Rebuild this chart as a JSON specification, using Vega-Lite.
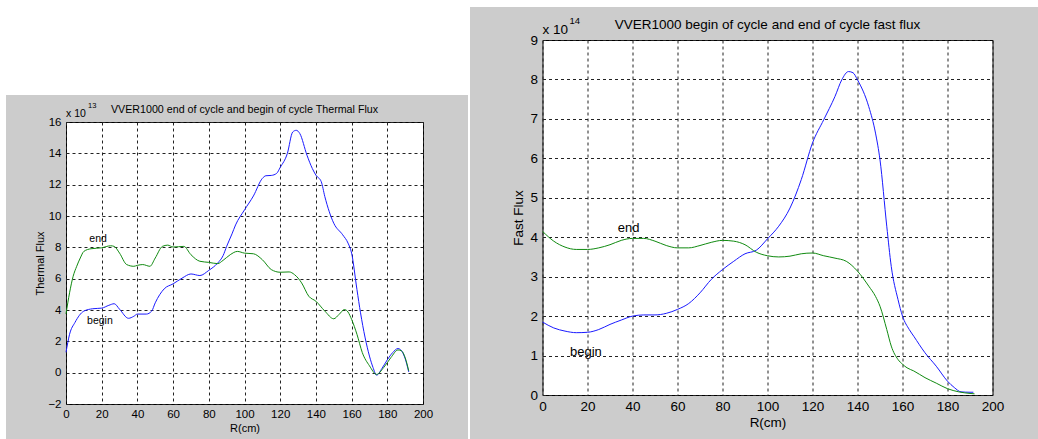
{
  "$schema": "https://vega.github.io/schema/vega-lite/v6.json",
  "background": "#cccccc",
  "padding": 0,
  "bounds": "full",
  "align": "none",
  "spacing": 0,
  "config": {
    "font": "Liberation Sans",
    "view": {"stroke": null},
    "axis": {
      "domain": false,
      "ticks": false,
      "grid": true,
      "gridColor": "#222222",
      "gridDash": [3, 3],
      "gridWidth": 1,
      "labelColor": "#000000",
      "titleColor": "#000000",
      "labelFont": "Liberation Sans",
      "titleFont": "Liberation Sans",
      "titleFontWeight": "normal",
      "labelFlush": false,
      "labelOverlap": false,
      "format": "d"
    },
    "title": {"fontWeight": "normal", "color": "#000000", "font": "Liberation Sans"}
  },
  "datasets": {
    "thermal": [
      {"r": 0, "flux": 1.3, "series": "begin"},
      {"r": 2, "flux": 2.45, "series": "begin"},
      {"r": 5, "flux": 3.2, "series": "begin"},
      {"r": 10, "flux": 3.93, "series": "begin"},
      {"r": 15, "flux": 4.08, "series": "begin"},
      {"r": 20, "flux": 4.12, "series": "begin"},
      {"r": 24, "flux": 4.3, "series": "begin"},
      {"r": 27, "flux": 4.4, "series": "begin"},
      {"r": 30, "flux": 4.05, "series": "begin"},
      {"r": 35, "flux": 3.47, "series": "begin"},
      {"r": 38, "flux": 3.6, "series": "begin"},
      {"r": 40, "flux": 3.74, "series": "begin"},
      {"r": 45, "flux": 3.74, "series": "begin"},
      {"r": 48, "flux": 3.93, "series": "begin"},
      {"r": 50, "flux": 4.46, "series": "begin"},
      {"r": 55, "flux": 5.35, "series": "begin"},
      {"r": 60, "flux": 5.67, "series": "begin"},
      {"r": 65, "flux": 6.03, "series": "begin"},
      {"r": 70, "flux": 6.3, "series": "begin"},
      {"r": 75, "flux": 6.2, "series": "begin"},
      {"r": 80, "flux": 6.53, "series": "begin"},
      {"r": 85, "flux": 7.0, "series": "begin"},
      {"r": 88, "flux": 7.47, "series": "begin"},
      {"r": 90, "flux": 8.06, "series": "begin"},
      {"r": 93, "flux": 8.86, "series": "begin"},
      {"r": 95, "flux": 9.43, "series": "begin"},
      {"r": 100, "flux": 10.39, "series": "begin"},
      {"r": 105, "flux": 11.28, "series": "begin"},
      {"r": 110, "flux": 12.4, "series": "begin"},
      {"r": 112, "flux": 12.57, "series": "begin"},
      {"r": 115, "flux": 12.59, "series": "begin"},
      {"r": 118, "flux": 12.72, "series": "begin"},
      {"r": 120, "flux": 13.1, "series": "begin"},
      {"r": 124, "flux": 13.99, "series": "begin"},
      {"r": 127, "flux": 15.36, "series": "begin"},
      {"r": 129, "flux": 15.47, "series": "begin"},
      {"r": 131, "flux": 15.26, "series": "begin"},
      {"r": 135, "flux": 13.88, "series": "begin"},
      {"r": 138, "flux": 13.03, "series": "begin"},
      {"r": 140, "flux": 12.61, "series": "begin"},
      {"r": 143, "flux": 12.19, "series": "begin"},
      {"r": 145, "flux": 11.24, "series": "begin"},
      {"r": 150, "flux": 9.54, "series": "begin"},
      {"r": 155, "flux": 8.8, "series": "begin"},
      {"r": 158, "flux": 8.27, "series": "begin"},
      {"r": 160, "flux": 7.63, "series": "begin"},
      {"r": 163, "flux": 5.3, "series": "begin"},
      {"r": 165, "flux": 3.82, "series": "begin"},
      {"r": 170, "flux": 1.06, "series": "begin"},
      {"r": 172, "flux": 0.33, "series": "begin"},
      {"r": 174, "flux": -0.16, "series": "begin"},
      {"r": 177, "flux": 0.27, "series": "begin"},
      {"r": 180, "flux": 0.82, "series": "begin"},
      {"r": 183, "flux": 1.28, "series": "begin"},
      {"r": 186, "flux": 1.54, "series": "begin"},
      {"r": 188, "flux": 1.39, "series": "begin"},
      {"r": 190, "flux": 0.9, "series": "begin"},
      {"r": 192, "flux": 0.05, "series": "begin"},
      {"r": 0, "flux": 3.75, "series": "end"},
      {"r": 2, "flux": 5.1, "series": "end"},
      {"r": 4, "flux": 6.15, "series": "end"},
      {"r": 6, "flux": 6.79, "series": "end"},
      {"r": 8, "flux": 7.32, "series": "end"},
      {"r": 10, "flux": 7.74, "series": "end"},
      {"r": 14, "flux": 7.91, "series": "end"},
      {"r": 20, "flux": 7.97, "series": "end"},
      {"r": 25, "flux": 8.1, "series": "end"},
      {"r": 27, "flux": 8.06, "series": "end"},
      {"r": 30, "flux": 7.63, "series": "end"},
      {"r": 34, "flux": 6.9, "series": "end"},
      {"r": 38, "flux": 6.79, "series": "end"},
      {"r": 40, "flux": 6.85, "series": "end"},
      {"r": 43, "flux": 6.9, "series": "end"},
      {"r": 47, "flux": 6.79, "series": "end"},
      {"r": 50, "flux": 7.32, "series": "end"},
      {"r": 54, "flux": 8.06, "series": "end"},
      {"r": 57, "flux": 8.14, "series": "end"},
      {"r": 60, "flux": 8.02, "series": "end"},
      {"r": 66, "flux": 8.06, "series": "end"},
      {"r": 70, "flux": 7.53, "series": "end"},
      {"r": 75, "flux": 7.11, "series": "end"},
      {"r": 80, "flux": 7.04, "series": "end"},
      {"r": 85, "flux": 6.96, "series": "end"},
      {"r": 88, "flux": 7.17, "series": "end"},
      {"r": 92, "flux": 7.53, "series": "end"},
      {"r": 96, "flux": 7.74, "series": "end"},
      {"r": 100, "flux": 7.63, "series": "end"},
      {"r": 105, "flux": 7.59, "series": "end"},
      {"r": 110, "flux": 7.21, "series": "end"},
      {"r": 115, "flux": 6.58, "series": "end"},
      {"r": 120, "flux": 6.41, "series": "end"},
      {"r": 125, "flux": 6.43, "series": "end"},
      {"r": 128, "flux": 6.26, "series": "end"},
      {"r": 132, "flux": 5.73, "series": "end"},
      {"r": 136, "flux": 4.88, "series": "end"},
      {"r": 140, "flux": 4.56, "series": "end"},
      {"r": 145, "flux": 3.93, "series": "end"},
      {"r": 150, "flux": 3.44, "series": "end"},
      {"r": 153, "flux": 3.72, "series": "end"},
      {"r": 156, "flux": 4.03, "series": "end"},
      {"r": 158, "flux": 3.87, "series": "end"},
      {"r": 160, "flux": 3.4, "series": "end"},
      {"r": 163, "flux": 2.45, "series": "end"},
      {"r": 166, "flux": 1.28, "series": "end"},
      {"r": 170, "flux": 0.44, "series": "end"},
      {"r": 174, "flux": -0.11, "series": "end"},
      {"r": 178, "flux": 0.33, "series": "end"},
      {"r": 182, "flux": 0.96, "series": "end"},
      {"r": 186, "flux": 1.45, "series": "end"},
      {"r": 188, "flux": 1.39, "series": "end"},
      {"r": 190, "flux": 0.96, "series": "end"},
      {"r": 192, "flux": 0.12, "series": "end"}
    ],
    "fast": [
      {"r": 0, "flux": 1.85, "series": "begin"},
      {"r": 5, "flux": 1.7, "series": "begin"},
      {"r": 10, "flux": 1.62, "series": "begin"},
      {"r": 15, "flux": 1.58, "series": "begin"},
      {"r": 20, "flux": 1.59, "series": "begin"},
      {"r": 25, "flux": 1.66, "series": "begin"},
      {"r": 30, "flux": 1.79, "series": "begin"},
      {"r": 35, "flux": 1.9, "series": "begin"},
      {"r": 40, "flux": 2.0, "series": "begin"},
      {"r": 45, "flux": 2.03, "series": "begin"},
      {"r": 50, "flux": 2.03, "series": "begin"},
      {"r": 55, "flux": 2.07, "series": "begin"},
      {"r": 60, "flux": 2.17, "series": "begin"},
      {"r": 65, "flux": 2.32, "series": "begin"},
      {"r": 70, "flux": 2.59, "series": "begin"},
      {"r": 75, "flux": 2.93, "series": "begin"},
      {"r": 80, "flux": 3.18, "series": "begin"},
      {"r": 85, "flux": 3.39, "series": "begin"},
      {"r": 90, "flux": 3.58, "series": "begin"},
      {"r": 95, "flux": 3.67, "series": "begin"},
      {"r": 100, "flux": 3.96, "series": "begin"},
      {"r": 105, "flux": 4.28, "series": "begin"},
      {"r": 110, "flux": 4.74, "series": "begin"},
      {"r": 115, "flux": 5.46, "series": "begin"},
      {"r": 120, "flux": 6.39, "series": "begin"},
      {"r": 125, "flux": 6.98, "series": "begin"},
      {"r": 130, "flux": 7.57, "series": "begin"},
      {"r": 133, "flux": 7.99, "series": "begin"},
      {"r": 136, "flux": 8.2, "series": "begin"},
      {"r": 138, "flux": 8.17, "series": "begin"},
      {"r": 140, "flux": 7.99, "series": "begin"},
      {"r": 145, "flux": 7.31, "series": "begin"},
      {"r": 148, "flux": 6.64, "series": "begin"},
      {"r": 150, "flux": 5.96, "series": "begin"},
      {"r": 153, "flux": 4.28, "series": "begin"},
      {"r": 155, "flux": 3.26, "series": "begin"},
      {"r": 158, "flux": 2.42, "series": "begin"},
      {"r": 160, "flux": 2.0, "series": "begin"},
      {"r": 163, "flux": 1.66, "series": "begin"},
      {"r": 165, "flux": 1.49, "series": "begin"},
      {"r": 170, "flux": 1.07, "series": "begin"},
      {"r": 175, "flux": 0.73, "series": "begin"},
      {"r": 180, "flux": 0.35, "series": "begin"},
      {"r": 183, "flux": 0.19, "series": "begin"},
      {"r": 186, "flux": 0.08, "series": "begin"},
      {"r": 190, "flux": 0.07, "series": "begin"},
      {"r": 191.5, "flux": 0.07, "series": "begin"},
      {"r": 0, "flux": 4.15, "series": "end"},
      {"r": 5, "flux": 3.9, "series": "end"},
      {"r": 10, "flux": 3.75, "series": "end"},
      {"r": 15, "flux": 3.69, "series": "end"},
      {"r": 20, "flux": 3.69, "series": "end"},
      {"r": 25, "flux": 3.73, "series": "end"},
      {"r": 30, "flux": 3.81, "series": "end"},
      {"r": 35, "flux": 3.92, "series": "end"},
      {"r": 40, "flux": 3.97, "series": "end"},
      {"r": 45, "flux": 3.97, "series": "end"},
      {"r": 50, "flux": 3.9, "series": "end"},
      {"r": 55, "flux": 3.79, "series": "end"},
      {"r": 60, "flux": 3.73, "series": "end"},
      {"r": 65, "flux": 3.73, "series": "end"},
      {"r": 70, "flux": 3.79, "series": "end"},
      {"r": 75, "flux": 3.87, "series": "end"},
      {"r": 80, "flux": 3.92, "series": "end"},
      {"r": 85, "flux": 3.9, "series": "end"},
      {"r": 90, "flux": 3.81, "series": "end"},
      {"r": 95, "flux": 3.62, "series": "end"},
      {"r": 100, "flux": 3.53, "series": "end"},
      {"r": 105, "flux": 3.5, "series": "end"},
      {"r": 110, "flux": 3.52, "series": "end"},
      {"r": 115, "flux": 3.58, "series": "end"},
      {"r": 120, "flux": 3.6, "series": "end"},
      {"r": 125, "flux": 3.53, "series": "end"},
      {"r": 130, "flux": 3.47, "series": "end"},
      {"r": 135, "flux": 3.39, "series": "end"},
      {"r": 140, "flux": 3.14, "series": "end"},
      {"r": 145, "flux": 2.76, "series": "end"},
      {"r": 148, "flux": 2.5, "series": "end"},
      {"r": 150, "flux": 2.25, "series": "end"},
      {"r": 153, "flux": 1.66, "series": "end"},
      {"r": 155, "flux": 1.24, "series": "end"},
      {"r": 158, "flux": 0.9, "series": "end"},
      {"r": 160, "flux": 0.78, "series": "end"},
      {"r": 162, "flux": 0.69, "series": "end"},
      {"r": 165, "flux": 0.61, "series": "end"},
      {"r": 170, "flux": 0.44, "series": "end"},
      {"r": 175, "flux": 0.3, "series": "end"},
      {"r": 180, "flux": 0.16, "series": "end"},
      {"r": 185, "flux": 0.08, "series": "end"},
      {"r": 190, "flux": 0.04, "series": "end"},
      {"r": 192, "flux": 0.03, "series": "end"}
    ],
    "thermal_labels": [
      {"r": 18, "flux": 8.53, "label": "end"},
      {"r": 19, "flux": 3.32, "label": "begin"}
    ],
    "fast_labels": [
      {"r": 38.3, "flux": 4.24, "label": "end"},
      {"r": 19.3, "flux": 1.09, "label": "begin"}
    ],
    "thermal_exp": [{"base": "x 10", "exp": "13"}],
    "fast_exp": [{"base": "x 10", "exp": "14"}]
  },
  "hconcat": [
    {
      "width": 6, "height": 439,
      "data": {"values": []},
      "view": {"fill": "#ffffff", "stroke": null},
      "mark": {"type": "point", "opacity": 0}
    },
    {
      "bounds": "full",
      "align": "none",
      "spacing": 6,
      "vconcat": [
        {
          "width": 462, "height": 95,
          "data": {"values": []},
          "view": {"fill": "#ffffff", "stroke": null},
          "mark": {"type": "point", "opacity": 0}
        },
        {
          "bounds": "full",
          "align": "none",
          "spacing": 27,
          "hconcat": [
            {
              "width": 1, "height": 1,
              "data": {"values": []},
              "view": {"fill": null, "stroke": null},
              "mark": {"type": "point", "opacity": 0}
            },
            {
              "width": 357, "height": 282,
              "view": {"fill": "#ffffff", "stroke": "#000000", "strokeWidth": 1},
              "title": {"text": "VVER1000 end of cycle and begin of cycle Thermal Flux", "fontSize": 10.7, "offset": -14, "anchor": "middle"},
              "layer": [
                {
                  "data": {"name": "thermal"},
                  "mark": {"type": "line", "interpolate": "monotone", "strokeWidth": 1},
                  "encoding": {
                    "x": {"field": "r", "type": "quantitative", "scale": {"domain": [0, 200], "nice": false, "zero": false},
                      "axis": {"title": "R(cm)", "values": [0, 20, 40, 60, 80, 100, 120, 140, 160, 180, 200], "tickCount": 30, "format": "d", "labelFontSize": 11.5, "titleFontSize": 11, "labelPadding": 4, "titlePadding": 3}},
                    "y": {"field": "flux", "type": "quantitative", "scale": {"domain": [-2, 16], "nice": false, "zero": false},
                      "axis": {"title": "Thermal Flux", "values": [-2, 0, 2, 4, 6, 8, 10, 12, 14, 16], "tickCount": 30, "format": "d", "labelFontSize": 11.5, "titleFontSize": 11, "labelPadding": 5, "titlePadding": 2}},
                    "color": {"field": "series", "type": "nominal", "scale": {"domain": ["begin", "end"], "range": ["#1a1aff", "#108a10"]}, "legend": null}
                  }
                },
                {
                  "data": {"name": "thermal_labels"},
                  "mark": {"type": "text", "fontSize": 10.5, "color": "#000000"},
                  "encoding": {
                    "x": {"field": "r", "type": "quantitative"},
                    "y": {"field": "flux", "type": "quantitative"},
                    "text": {"field": "label"}
                  }
                },
                {
                  "data": {"name": "thermal_exp"},
                  "mark": {"type": "text", "fontSize": 10.5, "align": "left", "baseline": "middle", "dy": -8, "color": "#000000"},
                  "encoding": {
                    "x": {"datum": 0},
                    "y": {"datum": 16},
                    "text": {"field": "base"}
                  }
                },
                {
                  "data": {"name": "thermal_exp"},
                  "mark": {"type": "text", "fontSize": 7.5, "align": "left", "baseline": "middle", "dx": 22, "dy": -16, "color": "#000000"},
                  "encoding": {
                    "x": {"datum": 0},
                    "y": {"datum": 16},
                    "text": {"field": "exp"}
                  }
                }
              ]
            }
          ]
        }
      ]
    },
    {
      "width": 2, "height": 439,
      "data": {"values": []},
      "view": {"fill": "#ffffff", "stroke": null},
      "mark": {"type": "point", "opacity": 0}
    },
    {
      "bounds": "full",
      "align": "none",
      "spacing": 8,
      "vconcat": [
        {
          "width": 568, "height": 7,
          "data": {"values": []},
          "view": {"fill": "#ffffff", "stroke": null},
          "mark": {"type": "point", "opacity": 0}
        },
        {
          "bounds": "full",
          "align": "none",
          "spacing": 39.5,
          "hconcat": [
            {
              "width": 1, "height": 1,
              "data": {"values": []},
              "view": {"fill": null, "stroke": null},
              "mark": {"type": "point", "opacity": 0}
            },
            {
              "width": 450, "height": 355,
              "view": {"fill": "#ffffff", "stroke": "#000000", "strokeWidth": 1},
              "title": {"text": "VVER1000 begin of cycle and end of cycle fast flux", "fontSize": 13.5, "offset": -15.5, "anchor": "middle"},
              "layer": [
                {
                  "data": {"name": "fast"},
                  "mark": {"type": "line", "interpolate": "monotone", "strokeWidth": 1},
                  "encoding": {
                    "x": {"field": "r", "type": "quantitative", "scale": {"domain": [0, 200], "nice": false, "zero": false},
                      "axis": {"title": "R(cm)", "values": [0, 20, 40, 60, 80, 100, 120, 140, 160, 180, 200], "tickCount": 30, "format": "d", "labelFontSize": 13.5, "titleFontSize": 13.5, "labelPadding": 4, "titlePadding": 3}},
                    "y": {"field": "flux", "type": "quantitative", "scale": {"domain": [0, 9], "nice": false, "zero": false},
                      "axis": {"title": "Fast Flux", "values": [0, 1, 2, 3, 4, 5, 6, 7, 8, 9], "tickCount": 30, "format": "d", "labelFontSize": 13.5, "titleFontSize": 13.5, "labelPadding": 5, "titlePadding": 4.5}},
                    "color": {"field": "series", "type": "nominal", "scale": {"domain": ["begin", "end"], "range": ["#1a1aff", "#108a10"]}, "legend": null}
                  }
                },
                {
                  "data": {"name": "fast_labels"},
                  "mark": {"type": "text", "fontSize": 13, "color": "#000000"},
                  "encoding": {
                    "x": {"field": "r", "type": "quantitative"},
                    "y": {"field": "flux", "type": "quantitative"},
                    "text": {"field": "label"}
                  }
                },
                {
                  "data": {"name": "fast_exp"},
                  "mark": {"type": "text", "fontSize": 13.5, "align": "left", "baseline": "middle", "dy": -10, "color": "#000000"},
                  "encoding": {
                    "x": {"datum": 0},
                    "y": {"datum": 9},
                    "text": {"field": "base"}
                  }
                },
                {
                  "data": {"name": "fast_exp"},
                  "mark": {"type": "text", "fontSize": 9.5, "align": "left", "baseline": "middle", "dx": 27, "dy": -19, "color": "#000000"},
                  "encoding": {
                    "x": {"datum": 0},
                    "y": {"datum": 9},
                    "text": {"field": "exp"}
                  }
                }
              ]
            }
          ]
        }
      ]
    }
  ]
}
